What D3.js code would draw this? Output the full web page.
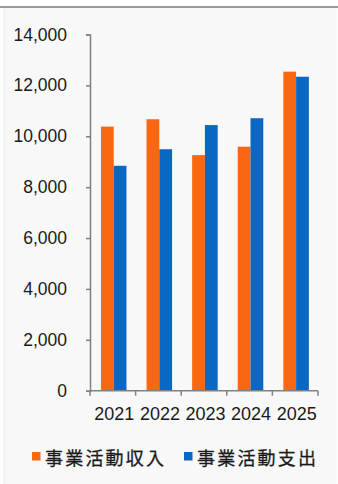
<!DOCTYPE html>
<html>
<head>
<meta charset="utf-8">
<script src="https://cdn.jsdelivr.net/npm/d3@7"></script>
<style>
  html, body { margin: 0; padding: 0; background: #ffffff; }
  svg { display: block; }
</style>
</head>
<body>
<script>
// Fiscal years on the x axis
const years = ["2021", "2022", "2023", "2024", "2025"];
// Series names (legend labels)
const seriesNames = ["事業活動収入", "事業活動支出"];
// Values per series, one per year
const income  = [10380, 10670, 9260, 9590, 12540];
const expense = [8840, 9490, 10440, 10710, 12340];
// Y axis ticks
const yTicks = [0, 2000, 4000, 6000, 8000, 10000, 12000, 14000];
const seriesColors = ["#fa6711", "#0b67c2"];

const W = 338, H = 484;
const plot = { left: 90, right: 318, top: 34.5, bottom: 390.7 };

const svg = d3.select("body").append("svg")
  .attr("width", W).attr("height", H);

// Panel background with top rule
svg.append("rect").attr("x", 4).attr("y", 7).attr("width", 333).attr("height", H - 7)
  .attr("fill", "#f8f8f8");
svg.append("line").attr("x1", 0).attr("x2", W).attr("y1", 7).attr("y2", 7)
  .attr("stroke", "#9a9a9a").attr("stroke-width", 2);
svg.append("line").attr("x1", 4).attr("x2", 4).attr("y1", 8).attr("y2", H)
  .attr("stroke", "#ececec").attr("stroke-width", 1);

const x0 = d3.scaleBand().domain(years).range([plot.left, plot.right]).padding(0);
const x1 = d3.scaleBand().domain(seriesNames)
  .range([x0.bandwidth() * 0.24, x0.bandwidth() * 0.80]).padding(0);
const y = d3.scaleLinear().domain([0, 14000]).range([plot.bottom, plot.top]);

const table = years.map((yr, i) => ({ year: yr, values: [income[i], expense[i]] }));

// Bars
const groups = svg.append("g").selectAll("g").data(table).join("g")
  .attr("transform", d => `translate(${x0(d.year)},0)`);
groups.selectAll("rect")
  .data(d => d.values.map((v, k) => ({ name: seriesNames[k], value: v, k })))
  .join("rect")
  .attr("x", d => x1(d.name))
  .attr("width", x1.bandwidth())
  .attr("y", d => y(d.value))
  .attr("height", d => y(0) - y(d.value))
  .attr("fill", d => seriesColors[d.k]);

// Y axis
const yAxis = svg.append("g").attr("transform", `translate(${plot.left},0)`)
  .call(d3.axisLeft(y).tickValues(yTicks).tickFormat(d3.format(",")).tickSizeOuter(0).tickSize(4).tickPadding(19));
yAxis.select(".domain").attr("stroke", "#808080").attr("stroke-width", 1.5);
yAxis.selectAll(".tick line").attr("stroke", "#808080").attr("stroke-width", 1.5);
yAxis.selectAll(".tick text")
  .attr("fill", "#1a1a1a")
  .style("font-family", "'Liberation Sans', Arial, sans-serif")
  .style("font-size", "17.5px");

// X axis: ticks at category boundaries
const xAxisG = svg.append("g").attr("transform", `translate(0,${plot.bottom})`);
xAxisG.append("line").attr("x1", plot.left).attr("x2", plot.right)
  .attr("stroke", "#808080").attr("stroke-width", 1.5);
const bounds = years.map(yr => x0(yr)).concat([x0(years[years.length - 1]) + x0.bandwidth()]);
xAxisG.selectAll("line.tk").data(bounds).join("line").attr("class", "tk")
  .attr("x1", d => d).attr("x2", d => d).attr("y1", 0).attr("y2", 5)
  .attr("stroke", "#808080").attr("stroke-width", 1.5);
xAxisG.selectAll("text").data(years).join("text")
  .attr("x", d => x0(d) + x0.bandwidth() / 2 + 1.5)
  .attr("y", 29)
  .attr("text-anchor", "middle")
  .attr("fill", "#1a1a1a")
  .style("font-family", "'Liberation Sans', Arial, sans-serif")
  .style("font-size", "18px")
  .text(d => d);

// Legend
const legendX = [32, 184];
const legend = svg.append("g").selectAll("g").data(seriesNames).join("g")
  .attr("transform", (d, i) => `translate(${legendX[i]},0)`);
legend.append("rect").attr("x", 0).attr("y", 452).attr("width", 8.5).attr("height", 8.5)
  .attr("fill", (d, i) => seriesColors[i]);
legend.append("text").attr("x", 13).attr("y", 457)
  .attr("dominant-baseline", "central")
  .attr("fill", "#1a1a1a")
  .attr("stroke", "#1a1a1a").attr("stroke-width", 0.3)
  .style("font-family", "'Noto Sans CJK JP', sans-serif")
  .style("font-size", "18px")
  .style("letter-spacing", "2.2px")
  .text(d => d);
</script>
</body>
</html>
